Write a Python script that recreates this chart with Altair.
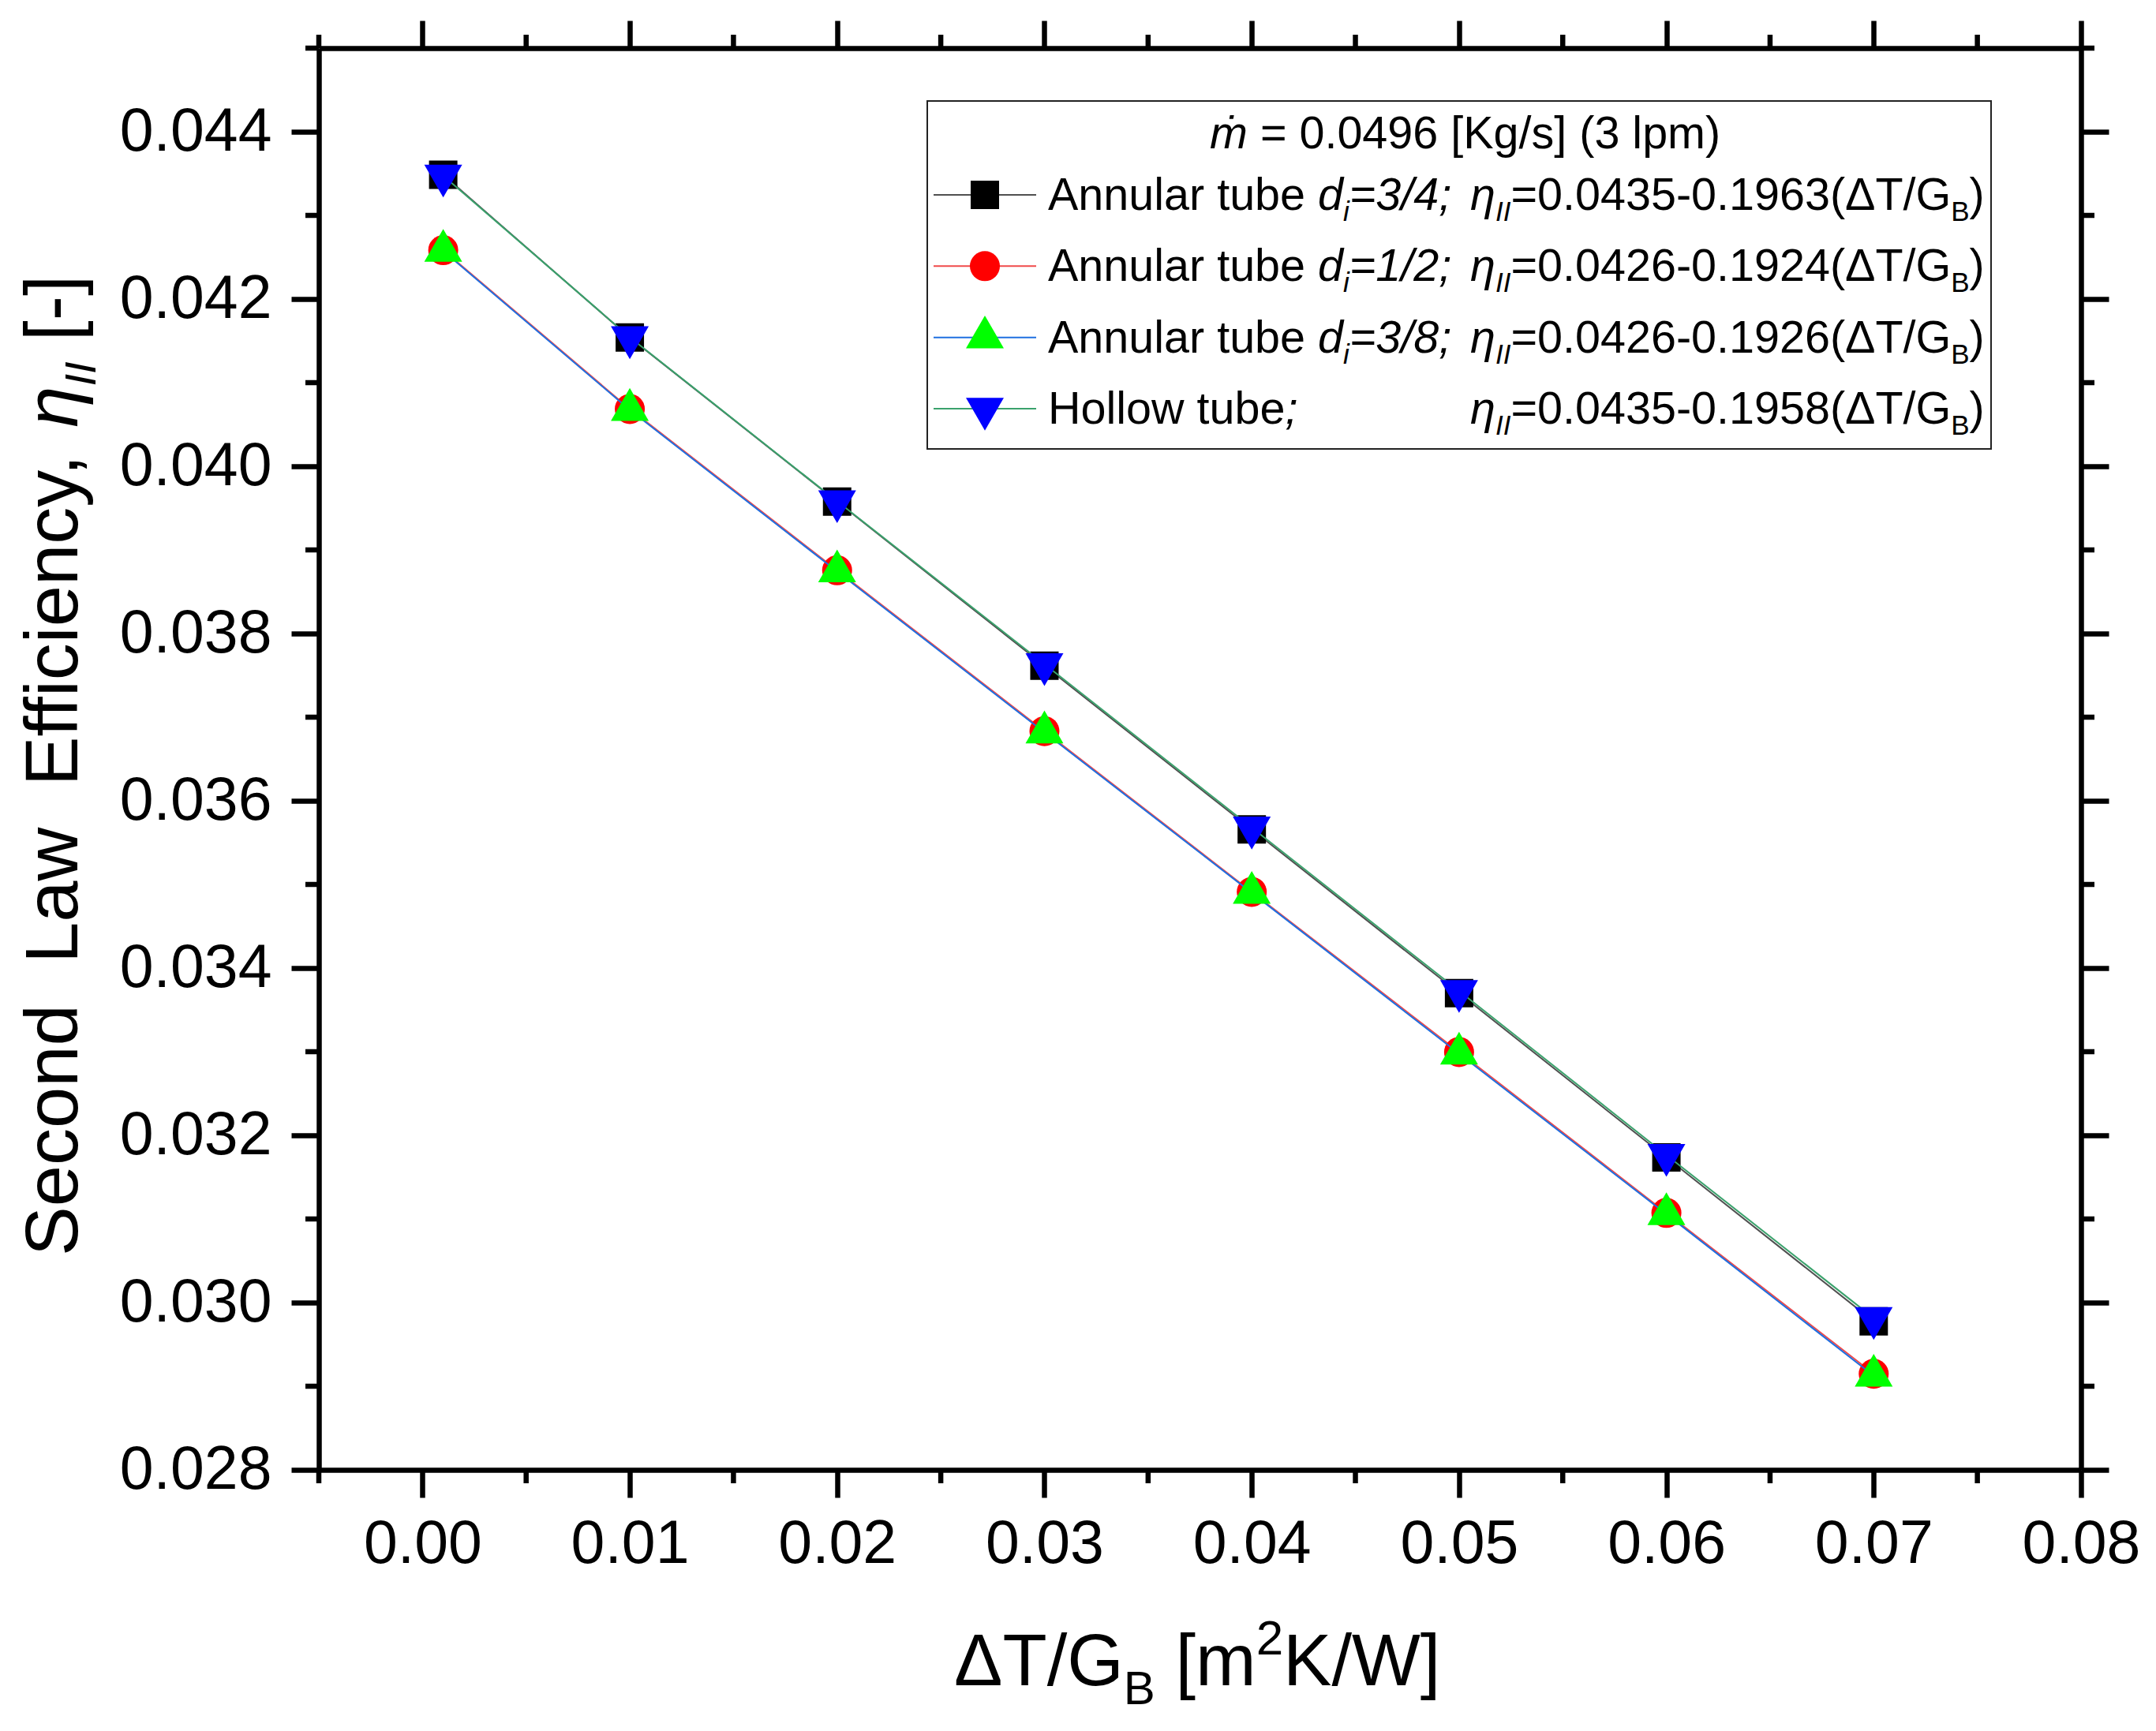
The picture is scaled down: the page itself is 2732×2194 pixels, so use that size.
import altair as alt
import pandas as pd

# ------------------------------------------------------------------ data
x_vals = [0.001, 0.01, 0.02, 0.03, 0.04, 0.05, 0.06, 0.07]
eta_d34 = [0.043485, 0.041539, 0.039577, 0.037615, 0.035658, 0.033700, 0.031735, 0.029775]
eta_d12 = [0.042584, 0.040685, 0.038756, 0.036832, 0.034911, 0.032996, 0.031072, 0.029148]
eta_d38 = [0.042576, 0.040674, 0.038743, 0.036818, 0.034900, 0.032977, 0.031058, 0.029125]
eta_hollow = [0.043475, 0.041543, 0.039582, 0.037634, 0.035680, 0.033726, 0.031765, 0.029815]

series_keys = ["d34", "d12", "d38", "hollow"]
series_vals = [eta_d34, eta_d12, eta_d38, eta_hollow]
series_names = ["Annular tube", "Annular tube", "Annular tube", "Hollow tube"]
series_di = ["3/4", "1/2", "3/8", ""]
fit_a = ["0.0435", "0.0426", "0.0426", "0.0435"]
fit_b = ["0.1963", "0.1924", "0.1926", "0.1958"]
legend_title_sym = "ṁ"
legend_title_rest = "= 0.0496 [Kg/s] (3 lpm)"

x_major = [0.00, 0.01, 0.02, 0.03, 0.04, 0.05, 0.06, 0.07, 0.08]
x_minor = [-0.005, 0.005, 0.015, 0.025, 0.035, 0.045, 0.055, 0.065, 0.075]
y_major = [0.028, 0.030, 0.032, 0.034, 0.036, 0.038, 0.040, 0.042, 0.044]
y_minor = [0.029, 0.031, 0.033, 0.035, 0.037, 0.039, 0.041, 0.043, 0.045]

# ------------------------------------------------------------------ style
FONT = "Liberation Sans"
W, H = 2233, 1802
TRI_UP = "M0,-1.1547L1,0.5774L-1,0.5774Z"
TRI_DOWN = "M0,1.1547L1,-0.5774L-1,-0.5774Z"
marker_shapes = ["square", "circle", TRI_UP, TRI_DOWN]
marker_colors = ["#000000", "#ff0000", "#00ff00", "#0000ff"]
marker_sizes = [1296, 1444, 2304, 2304]
line_colors = ["#505050", "#f04a4a", "#1f6fe0", "#3aa26c"]
AX_W = 6.5

# Arial / Liberation Sans advance widths (per 1000 em)
CW = {' ': 278, 'A': 667, 'B': 667, 'E': 667, 'G': 778, 'H': 722, 'I': 278, 'K': 667,
      'L': 556, 'S': 667, 'T': 611, 'W': 944, 'a': 556, 'b': 556, 'c': 500, 'd': 556,
      'e': 556, 'f': 278, 'g': 556, 'i': 222, 'l': 222, 'm': 833, 'n': 556, 'o': 556,
      'p': 556, 'r': 333, 's': 500, 't': 278, 'u': 556, 'w': 722, 'y': 500, '.': 278,
      ',': 278, ';': 278, '=': 584, '-': 333, '/': 278, '(': 333, ')': 333, '[': 278,
      ']': 278, 'Δ': 668, 'η': 556, 'ṁ': 833}


def tw(s, size):
    return sum(CW.get(c, 556) for c in s) / 1000.0 * size


xs = alt.Scale(domain=[-0.005, 0.08], nice=False, zero=False)
ys = alt.Scale(domain=[0.028, 0.045], nice=False, zero=False)

rows = []
for k, vals in zip(series_keys, series_vals):
    for xv, yv in zip(x_vals, vals):
        rows.append({"key": k, "x": xv, "eta": yv})
df = pd.DataFrame(rows)
one = pd.DataFrame({"a": [0]})

common_axis = dict(title=None, grid=False, domainColor="black", domainWidth=AX_W,
                   tickColor="black", tickWidth=AX_W, tickSize=35, labelFont=FONT,
                   labelFontSize=77, labelColor="black", labelOverlap=False,
                   labelFlush=False, labelLimit=600)

ax_bottom = alt.Axis(orient="bottom", values=x_major, format=".2f", labelPadding=21, **common_axis)
ax_top = alt.Axis(orient="top", values=x_major, labels=False, **common_axis)
ax_left = alt.Axis(orient="left", values=y_major, format=".3f", labelPadding=25, **common_axis)
ax_right = alt.Axis(orient="right", values=y_major, labels=False, **common_axis)

layers = []
layers.append(alt.Chart(df).mark_point(opacity=0).encode(
    x=alt.X("x:Q", scale=xs, axis=ax_bottom), y=alt.Y("eta:Q", scale=ys, axis=ax_left)))
layers.append(alt.Chart(df).mark_point(opacity=0).encode(
    x=alt.X("x:Q", scale=xs, axis=ax_top), y=alt.Y("eta:Q", scale=ys, axis=ax_right)))

# minor ticks
mx = pd.DataFrame({"mx": x_minor})
my = pd.DataFrame({"my": y_minor})
for y0, y1 in [(H, H + 17), (0, -17)]:
    layers.append(alt.Chart(mx).mark_rule(color="black", strokeWidth=AX_W).encode(
        x=alt.X("mx:Q", scale=xs, axis=None), y=alt.value(y0), y2=alt.value(y1)))
for x0, x1 in [(0, -17), (W, W + 17)]:
    layers.append(alt.Chart(my).mark_rule(color="black", strokeWidth=AX_W).encode(
        y=alt.Y("my:Q", scale=ys, axis=None), x=alt.value(x0), x2=alt.value(x1)))

# data series
for i, k in enumerate(series_keys):
    base = alt.Chart(df).transform_filter(alt.datum.key == k)
    enc = dict(x=alt.X("x:Q", scale=xs, axis=None), y=alt.Y("eta:Q", scale=ys, axis=None))
    layers.append(base.mark_line(color=line_colors[i], strokeWidth=2).encode(**enc))
    layers.append(base.mark_point(filled=True, shape=marker_shapes[i], size=marker_sizes[i],
                                  color=marker_colors[i], opacity=1).encode(**enc))


def piece(text, x, y, size, italic=False, angle=0):
    kw = dict(text=text, font=FONT, fontSize=size, align="left", baseline="alphabetic",
              color="black")
    if italic:
        kw["fontStyle"] = "italic"
    if angle:
        kw["angle"] = angle
    return alt.Chart(one).mark_text(**kw).encode(x=alt.value(x), y=alt.value(y))


# legend box
layers.append(alt.Chart(one).mark_rect(fill="white", stroke="#222222", strokeWidth=2).encode(
    x=alt.value(771), x2=alt.value(2119), y=alt.value(67), y2=alt.value(508)))

FL, SL, SH = 57.5, 35, 14
layers.append(piece(legend_title_sym, 1129, 127, FL, italic=True))
layers.append(piece(legend_title_rest, 1129 + tw(legend_title_sym + " ", FL), 127, FL))

for r in range(4):
    yc = 186 + r * 90.33
    yb = yc + 19
    layers.append(alt.Chart(one).mark_rule(color=line_colors[r], strokeWidth=2).encode(
        x=alt.value(779), x2=alt.value(909), y=alt.value(yc)))
    layers.append(alt.Chart(one).mark_point(filled=True, shape=marker_shapes[r],
                                            size=marker_sizes[r], color=marker_colors[r],
                                            opacity=1).encode(x=alt.value(844), y=alt.value(yc)))
    x0 = 924
    layers.append(piece(series_names[r], x0, yb, FL))
    if series_di[r]:
        c = x0 + tw(series_names[r] + " ", FL)
        layers.append(piece("d", c, yb, FL, italic=True))
        c += tw("d", FL)
        layers.append(piece("i", c, yb + SH, SL, italic=True))
        c += tw("i", SL)
        layers.append(piece("=" + series_di[r] + ";", c, yb, FL, italic=True))
    else:
        c = x0 + tw(series_names[r], FL)
        layers.append(piece(";", c, yb, FL, italic=True))
    c = 1459
    layers.append(piece("η", c, yb, FL, italic=True))
    c += tw("η", FL)
    layers.append(piece("II", c, yb + SH, SL, italic=True))
    c += tw("II", SL)
    main = "=" + fit_a[r] + "-" + fit_b[r] + "(ΔT/G"
    layers.append(piece(main, c, yb, FL))
    c += tw(main, FL)
    layers.append(piece("B", c, yb + SH, SL))
    c += tw("B", SL)
    layers.append(piece(")", c, yb, FL))

# y axis title (rotated, reading upward)
FY, SY = 94, 56
yx = -306
cur = 1531
for word, italic, size, dx in [("Second", False, FY, 0), ("  ", None, FY, 0),
                               ("Law", False, FY, 0), ("  ", None, FY, 0),
                               ("Efficiency,", False, FY, 0), (" ", None, FY, 0),
                               ("η", True, FY, 0), ("II", True, SY, 23),
                               (" ", None, FY, 0), ("[-]", False, FY, 0)]:
    if italic is not None:
        layers.append(piece(word, yx + dx, cur, size, italic=italic, angle=270))
    cur -= tw(word, size)

# x axis title
FX = 92
cx, by = 805, 2075
for txt, size, dy in [("ΔT/G", FX, 0), ("B", 60, 24), (" [m", FX, 0), ("2", 62, -39),
                      ("K/W]", FX, 0)]:
    t = txt.strip()
    lead = tw(txt[:len(txt) - len(txt.lstrip())], size)
    layers.append(piece(t, cx + lead, by + dy, size))
    cx += tw(txt, size)

chart = alt.layer(*layers).properties(
    width=W, height=H,
    autosize=alt.AutoSizeParams(type="none"),
    padding={"left": 396, "top": 53, "right": 85, "bottom": 320},
    background="white",
).configure_view(strokeWidth=0)

chart.save("out.html", embed_options={"renderer": "svg", "actions": False})
